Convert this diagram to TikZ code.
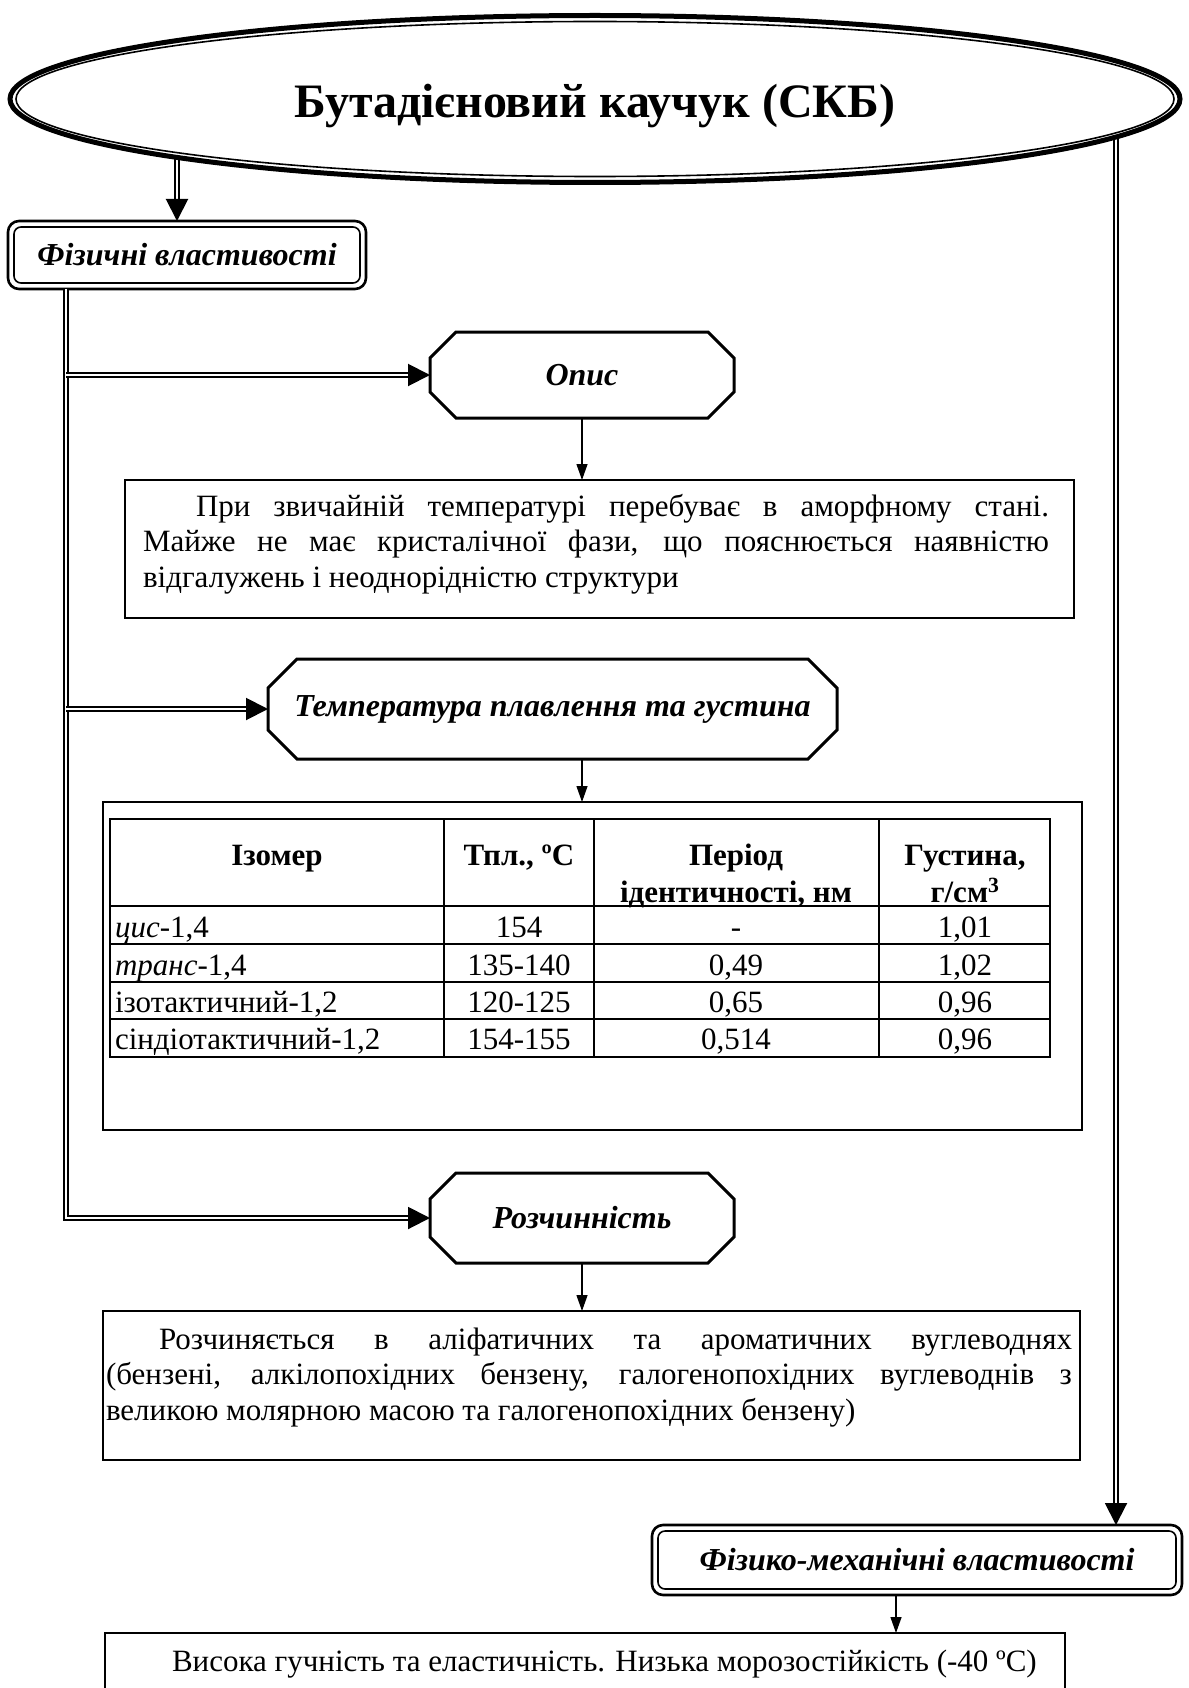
\documentclass[tikz,border=0pt]{standalone}
\usepackage{fontspec}
\setmainfont{Liberation Serif}
\usetikzlibrary{arrows.meta,calc,shapes.geometric}

\tolerance=10000
\hyphenpenalty=10000
\exhyphenpenalty=10000

% octagon-like outline with cut corners around a plain node
\newcommand\chamferoutline[2]{%
  \draw[line width=3pt, line join=miter]
    ($(#1.north west)+(#2,0)$) -- ($(#1.north east)+(-#2,0)$)
    -- ($(#1.north east)+(0,#2)$) -- ($(#1.south east)+(0,-#2)$)
    -- ($(#1.south east)+(-#2,0)$) -- ($(#1.south west)+(#2,0)$)
    -- ($(#1.south west)+(0,-#2)$) -- ($(#1.north west)+(0,#2)$) -- cycle;}
% thin inner frame of a double rounded box
\newcommand\innerframe[1]{%
  \draw[line width=1.6pt, rounded corners=7pt]
    ($(#1.north west)+(6,6)$) rectangle ($(#1.south east)+(-6,-6)$);}

\tikzset{
  every node/.style={inner sep=0pt, outer sep=0pt},
  dbl/.style={double, double distance=2.6pt, line width=2pt},
  dbltip/.style={-{Triangle[length=22pt,width=22pt]}},
  plain arrow/.style={line width=1.3pt, -{Triangle[length=16pt,width=11pt]}},
  heading/.style={font=\fontsize{32}{38}\selectfont\bfseries\itshape},
  bodytext/.style={font=\fontsize{31}{35.5}\selectfont},
  framebox/.style={draw, line width=1.6pt},
  roundbox/.style={draw, line width=2.6pt, rounded corners=11pt},
  grid line/.style={line width=1.8pt},
  cell/.style={bodytext, anchor=base},
  headcell/.style={bodytext, anchor=base, font=\fontsize{31}{35.5}\selectfont\bfseries},
}

\begin{document}
\begin{tikzpicture}[x=1pt, y=-1pt]
\useasboundingbox (0,0) rectangle (1188,1688);
\clip (0,0) rectangle (1188,1688);
\fill[white] (0,0) rectangle (1188,1688);

% title ellipse (outline drawn after the connectors leaving it)
\node[ellipse, minimum width=1170pt, minimum height=167pt] (title) at (595,99) {};
\coordinate (lout) at (177,99);
\coordinate (rout) at (1116,99);

% physical properties
\node[roundbox, heading, anchor=north west, minimum width=358pt, minimum height=68pt] (fiz) at (8,221) {Фізичні властивості};
\innerframe{fiz}

% description
\node[heading, anchor=north west, minimum width=304pt, minimum height=86pt] (opis) at (430,332) {Опис};
\chamferoutline{opis}{26}
\node[framebox, anchor=north west, minimum width=949pt, minimum height=138pt] (box1) at (125,480) {};
\node[bodytext, text width=906pt, align=justify, anchor=base west] (t1) at (143,516)
  {\hspace*{53pt}При звичайній температурі перебуває в аморфному стані.\linebreak
   Майже не має кристалічної фази, що пояснюється наявністю\linebreak
   відгалужень і неоднорідністю структури};

% melting point and density
\node[heading, anchor=north west, minimum width=569pt, minimum height=100pt] (temp) at (268,659) {Температура плавлення та густина};
\chamferoutline{temp}{29}
\node[framebox, anchor=north west, minimum width=979pt, minimum height=328pt] (tblbox) at (103,802) {};
\node[draw, grid line, anchor=north west, minimum width=940pt, minimum height=238pt] (tbl) at (110,819) {};
\foreach \cx in {334,484,769}
  \draw[grid line] ($(tbl.north west)+(\cx,0)$) -- ($(tbl.south west)+(\cx,0)$);
\foreach \ry in {87,125,163,200}
  \draw[grid line] ($(tbl.north west)+(0,\ry)$) -- ($(tbl.north east)+(0,\ry)$);
% header
\node[headcell] (h1) at ($(tbl.north west)+(167,46)$) {Ізомер};
\node[headcell] (h2) at ($(tbl.north west)+(409,46)$) {Тпл., ºC};
\node[headcell] (h3a) at ($(tbl.north west)+(626,46)$) {Період};
\node[headcell] (h3b) at ($(tbl.north west)+(626,83)$) {ідентичності, нм};
\node[headcell] (h4a) at ($(tbl.north west)+(855,46)$) {Густина,};
\node[headcell] (h4b) at ($(tbl.north west)+(855,83)$) {г/см\textsuperscript{3}};
% rows
\node[cell, anchor=base west] (r1a) at ($(tbl.north west)+(5,118)$) {\textit{цис}-1,4};
\node[cell] (r1b) at ($(tbl.north west)+(409,118)$) {154};
\node[cell] (r1c) at ($(tbl.north west)+(626,118)$) {-};
\node[cell] (r1d) at ($(tbl.north west)+(855,118)$) {1,01};
\node[cell, anchor=base west] (r2a) at ($(tbl.north west)+(5,156)$) {\textit{транс}-1,4};
\node[cell] (r2b) at ($(tbl.north west)+(409,156)$) {135-140};
\node[cell] (r2c) at ($(tbl.north west)+(626,156)$) {0,49};
\node[cell] (r2d) at ($(tbl.north west)+(855,156)$) {1,02};
\node[cell, anchor=base west] (r3a) at ($(tbl.north west)+(5,193)$) {ізотактичний-1,2};
\node[cell] (r3b) at ($(tbl.north west)+(409,193)$) {120-125};
\node[cell] (r3c) at ($(tbl.north west)+(626,193)$) {0,65};
\node[cell] (r3d) at ($(tbl.north west)+(855,193)$) {0,96};
\node[cell, anchor=base west] (r4a) at ($(tbl.north west)+(5,230)$) {сіндіотактичний-1,2};
\node[cell] (r4b) at ($(tbl.north west)+(409,230)$) {154-155};
\node[cell] (r4c) at ($(tbl.north west)+(626,230)$) {0,514};
\node[cell] (r4d) at ($(tbl.north west)+(855,230)$) {0,96};

% solubility
\node[heading, anchor=north west, minimum width=304pt, minimum height=90pt] (rozch) at (430,1173) {Розчинність};
\chamferoutline{rozch}{26}
\node[framebox, anchor=north west, minimum width=977pt, minimum height=149pt] (box3) at (103,1311) {};
\node[bodytext, text width=966pt, align=justify, anchor=base west] (t3) at (106,1349)
  {\hspace*{53pt}Розчиняється в аліфатичних та ароматичних вуглеводнях\linebreak
   (бензені, алкілопохідних бензену, галогенопохідних вуглеводнів з\linebreak
   великою молярною масою та галогенопохідних бензену)};

% physico-mechanical properties
\node[roundbox, heading, anchor=north west, minimum width=530pt, minimum height=70pt] (fm) at (652,1525) {Фізико-механічні властивості};
\innerframe{fm}
\node[framebox, anchor=north west, minimum width=960pt, minimum height=120pt] (bottom) at (105,1633) {};
\node[bodytext, anchor=base west] (t4) at (172,1671) {Висока гучність та еластичність. Низька морозостійкість (-40 ºC)};

% connectors
\coordinate (vl) at ($(fiz.south west)+(58,0)$);
\draw[dbl, dbltip] (lout) -- (lout |- fiz.north);
\draw[dbl, dbltip] (rout) -- (rout |- fm.north);
\draw[dbl, dbltip] (vl) |- (rozch.west);
\draw[dbl, dbltip] (vl |- opis.west) -- (opis.west);
\draw[dbl, dbltip] (vl |- temp.west) -- (temp.west);
\draw[plain arrow] (opis.south) -- (opis.south |- box1.north);
\draw[plain arrow] (opis.south |- temp.south) -- (opis.south |- tblbox.north);
\draw[plain arrow] (rozch.south) -- (rozch.south |- box3.north);
\coordinate (fmout) at ($(fm.south)+(-21,0)$);
\draw[plain arrow] (fmout) -- (fmout |- bottom.north);

% title ellipse: thick outer line, thin inner line, white inside
\draw[line width=5pt, fill=white] (title.center) ellipse [x radius=585pt, y radius=83.5pt];
\draw[line width=1.6pt] (title.center) ellipse [x radius=579pt, y radius=77.5pt];
\node[font=\fontsize{48}{56}\selectfont\bfseries, anchor=base] (titletext) at (595,118) {Бутадієновий каучук (СКБ)};
\end{tikzpicture}
\end{document}
